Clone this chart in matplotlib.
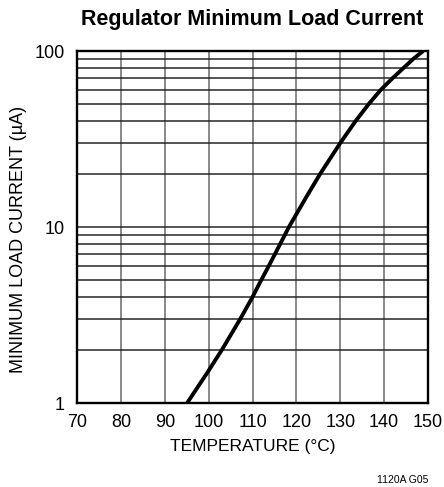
import numpy as np
import matplotlib
matplotlib.use("Agg")
import matplotlib.pyplot as plt
from matplotlib.ticker import LogLocator, FixedLocator, NullFormatter

plt.rcParams['font.family'] = ['Liberation Sans', 'DejaVu Sans']

# curve (temperature in C, current in uA)
temperature = [95.1, 99.8, 103.0, 107.2, 110.0, 112.0, 113.7, 116.3, 118.3,
               122.4, 125.4, 130.0, 133.5, 136.5, 139.2, 141.9, 144.4, 146.6, 148.9]
load_current = [1.0, 1.5, 2.0, 3.0, 4.0, 5.0, 6.0, 8.0, 10.0,
                15.0, 20.0, 30.0, 40.0, 50.0, 60.0, 70.0, 80.0, 90.0, 100.0]

x_ticks = [70, 80, 90, 100, 110, 120, 130, 140, 150]
y_ticks = [1, 10, 100]
y_tick_labels = ["1", "10", "100"]

fig = plt.figure(figsize=(4.44, 4.87), dpi=100)
ax = fig.add_axes([77 / 444, 1 - 403 / 487, 351 / 444, 352 / 487])

ax.set_yscale("log")
ax.set_xlim(70, 150)
ax.set_ylim(1, 100)

# grid: vertical lines lighter, horizontal log lines darker
for t in x_ticks[1:-1]:
    ax.axvline(t, color="#808080", lw=1.3, zorder=1)
minor = [m * d for d in (1, 10) for m in range(2, 10)] + [10]
for v in minor:
    ax.axhline(v, color="#262626", lw=1.1, zorder=1)

ax.plot(temperature, load_current, color="black", lw=2.8, zorder=3,
        solid_joinstyle="round", solid_capstyle="butt")

ax.xaxis.set_major_locator(FixedLocator(x_ticks))
ax.yaxis.set_major_locator(FixedLocator(y_ticks))
ax.yaxis.set_minor_locator(LogLocator(subs=[]))
ax.yaxis.set_minor_formatter(NullFormatter())
ax.set_yticklabels(y_tick_labels)
ax.tick_params(axis="both", which="both", length=0, labelsize=13)
ax.tick_params(axis="x", pad=8)
ax.tick_params(axis="y", pad=9)

for sp in ax.spines.values():
    sp.set_linewidth(1.7)
    sp.set_zorder(4)

ax.set_xlabel("TEMPERATURE (°C)", fontsize=12.5, labelpad=6)
ax.set_ylabel("MINIMUM LOAD CURRENT (µA)", fontsize=13)
ax.yaxis.set_label_coords(-0.142, 0.466)

fig.text(252 / 444, 1 - 19 / 487, "Regulator Minimum Load Current",
         ha="center", va="center", fontsize=15.5, fontweight="bold")
fig.text(428 / 444, 1 - 480 / 487, "1120A G05", ha="right", va="center",
         fontsize=7.5)

fig.savefig("out.png", dpi=100)
